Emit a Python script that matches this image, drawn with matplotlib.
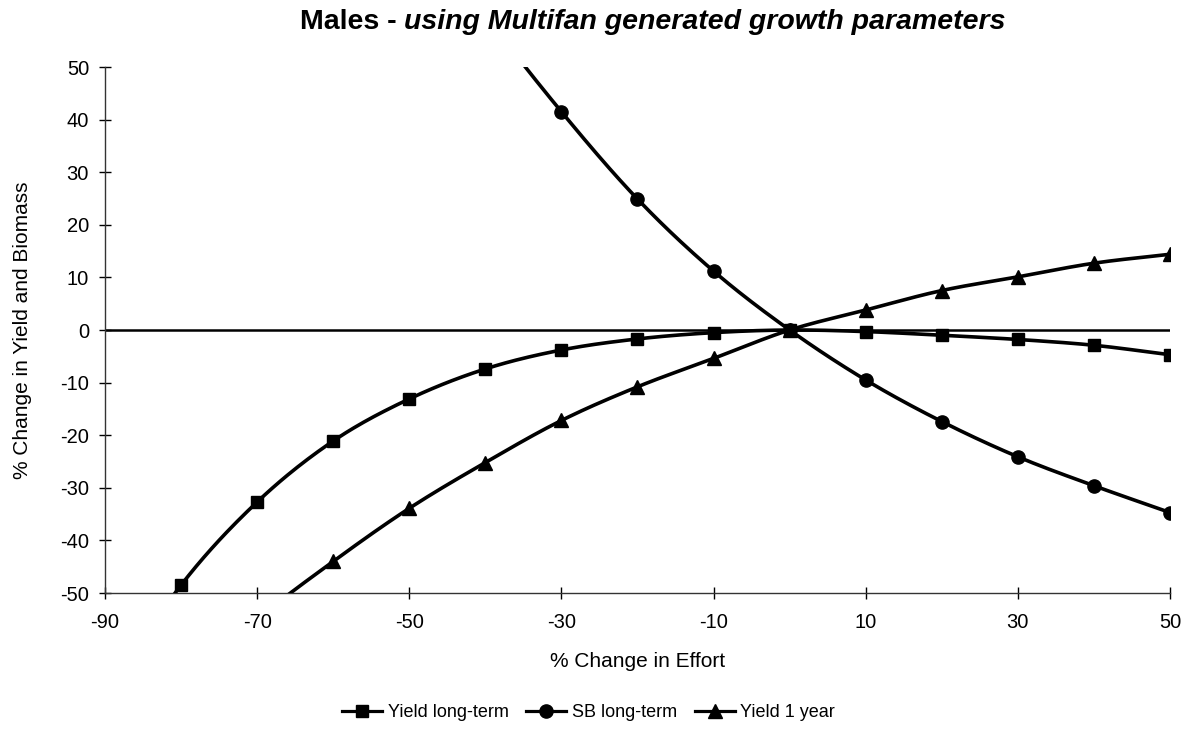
import numpy as np
import matplotlib
matplotlib.use("Agg")
import matplotlib.pyplot as plt

plt.rcParams['font.family'] = ['Liberation Sans', 'DejaVu Sans']
plt.rcParams['axes.unicode_minus'] = False

effort = [-90, -80, -70, -60, -50, -40, -30, -20, -10, 0, 10, 20, 30, 40, 50]
yield_long = [-70.0, -48.5, -32.7, -21.1, -13.1, -7.4, -3.8, -1.7, -0.5, 0.0, -0.3, -1.0, -1.8, -2.9, -4.7]
sb_long = [230.0, 175.0, 135.0, 105.0, 81.0, 60.0, 41.5, 24.9, 11.2, 0.0, -9.5, -17.4, -24.1, -29.6, -34.7]
yield_1yr = [-85.0, -68.0, -55.0, -44.0, -33.9, -25.2, -17.2, -10.8, -5.4, 0.0, 3.8, 7.5, 10.1, 12.7, 14.4]

marker_x = [-80, -70, -60, -50, -40, -30, -20, -10, 0, 10, 20, 30, 40, 50]

xticks = [-90, -70, -50, -30, -10, 10, 30, 50]
yticks = [-50, -40, -30, -20, -10, 0, 10, 20, 30, 40, 50]


def smooth(x, y, n=30):
    x = np.asarray(x, float)
    y = np.asarray(y, float)
    px = np.concatenate([[2 * x[0] - x[1]], x, [2 * x[-1] - x[-2]]])
    py = np.concatenate([[2 * y[0] - y[1]], y, [2 * y[-1] - y[-2]]])
    xs, ys = [], []
    t = np.linspace(0, 1, n, endpoint=False)
    for i in range(1, len(px) - 2):
        p0, p1, p2, p3 = (np.array([px[j], py[j]]) for j in range(i - 1, i + 3))
        c1 = p1 + (p2 - p0) / 6.0
        c2 = p2 - (p3 - p1) / 6.0
        b = ((1 - t) ** 3)[:, None] * p1 + (3 * (1 - t) ** 2 * t)[:, None] * c1 \
            + (3 * (1 - t) * t ** 2)[:, None] * c2 + (t ** 3)[:, None] * p2
        xs.append(b[:, 0]); ys.append(b[:, 1])
    xs.append([x[-1]]); ys.append([y[-1]])
    return np.concatenate(xs), np.concatenate(ys)


fig = plt.figure(figsize=(11.89, 7.42), dpi=100)
ax = fig.add_axes([0.0883, 0.2008, 0.8957, 0.7089])

ax.axhline(0, color='black', lw=1.8, zorder=1)

series = [(yield_long, 's', 'Yield long-term', 9),
          (sb_long, 'o', 'SB long-term', 9.5),
          (yield_1yr, '^', 'Yield 1 year', 10)]
handles = []
for vals, mk, lab, ms in series:
    sx, sy = smooth(effort, vals)
    ax.plot(sx, sy, color='black', lw=2.6, zorder=3, clip_on=True)
    mv = [vals[effort.index(v)] for v in marker_x]
    ax.plot(marker_x, mv, linestyle='none', marker=mk, color='black', ms=ms, zorder=4, clip_on=True)
    h, = ax.plot([], [], color='black', lw=2.3, marker=mk, ms=ms, label=lab)
    handles.append(h)

ax.set_xlim(-90, 50)
ax.set_ylim(-50, 50)
ax.set_xticks(xticks)
ax.set_yticks(yticks)
ax.tick_params(direction='inout', length=9, width=1, labelsize=14.5, colors='black')
ax.tick_params(axis='x', pad=10)
ax.tick_params(axis='y', pad=7)
for s in ['top', 'right']:
    ax.spines[s].set_visible(False)
for s in ['left', 'bottom']:
    ax.spines[s].set_color('#333333')
    ax.spines[s].set_linewidth(1.0)

ax.set_xlabel('% Change in Effort', fontsize=15, labelpad=14)
ax.set_ylabel('% Change in Yield and Biomass', fontsize=15, labelpad=20)

fig.text(0.340, 0.971, 'Males - ', fontsize=20.5, fontweight='bold', ha='right', va='center')
fig.text(0.340, 0.971, 'using Multifan generated growth parameters', fontsize=20.5,
         fontweight='bold', fontstyle='italic', ha='left', va='center')

fig.legend(handles=handles, loc='center', bbox_to_anchor=(0.495, 0.04), ncol=3,
           frameon=False, fontsize=13, handlelength=2.2, columnspacing=1.0, handletextpad=0.3)

fig.savefig('out.png', dpi=100)
